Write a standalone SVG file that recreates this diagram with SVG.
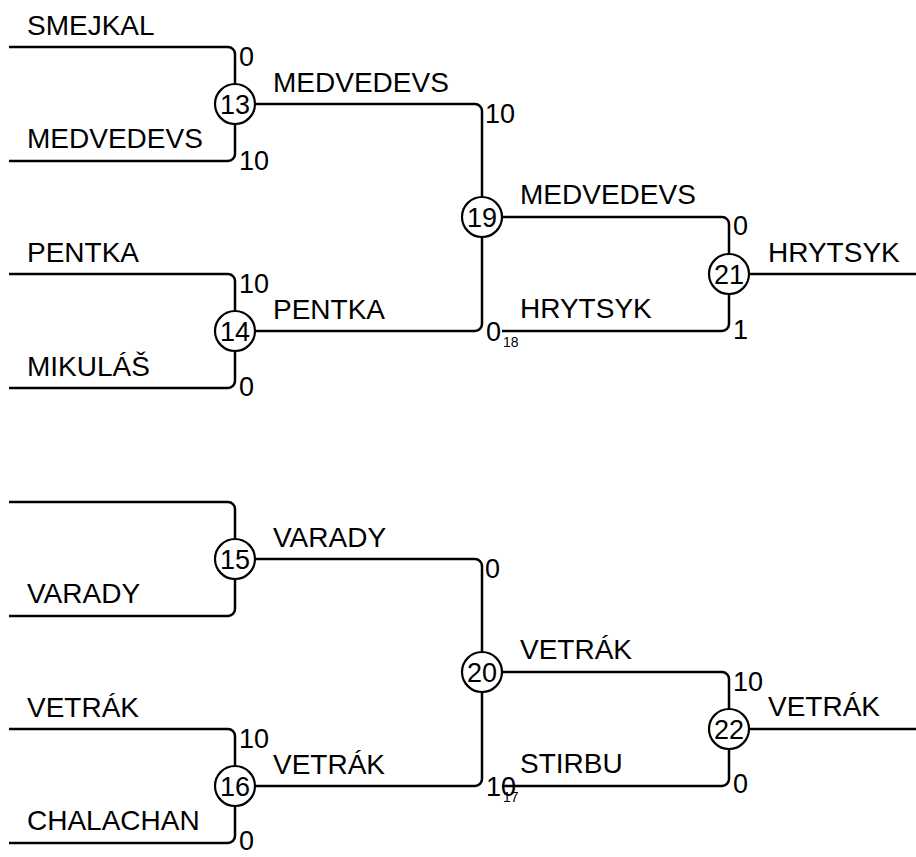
<svg xmlns="http://www.w3.org/2000/svg" width="916" height="857" viewBox="0 0 916 857">
<style>
.ln{fill:none;stroke:#000;stroke-width:2.5}
.nd circle{fill:#fff;stroke:#000;stroke-width:2.2}
text{font-family:"Liberation Sans",Arial,sans-serif;font-size:28px;fill:#000}
.num{text-anchor:middle;font-size:27px}
.sc{font-size:27px}
.sub{font-size:14px}
</style>
<rect width="916" height="857" fill="#fff"/>
<g id="connectors">
<path class="ln" d="M9,47 H228 A7,7 0 0 1 235,54 V154 A7,7 0 0 1 228,161 H9"/>
<path class="ln" d="M9,274 H228 A7,7 0 0 1 235,281 V381 A7,7 0 0 1 228,388 H9"/>
<path class="ln" d="M235,104 H475 A7,7 0 0 1 482,111 V324 A7,7 0 0 1 475,331 H235"/>
<path class="ln" d="M482,217 H722 A7,7 0 0 1 729,224 V324 A7,7 0 0 1 722,331 H502"/>
<path class="ln" d="M729,274 H916"/>
<path class="ln" d="M9,502 H228 A7,7 0 0 1 235,509 V609 A7,7 0 0 1 228,616 H9"/>
<path class="ln" d="M9,729 H228 A7,7 0 0 1 235,736 V836 A7,7 0 0 1 228,843 H9"/>
<path class="ln" d="M235,559 H475 A7,7 0 0 1 482,566 V779 A7,7 0 0 1 475,786 H235"/>
<path class="ln" d="M482,672 H722 A7,7 0 0 1 729,679 V779 A7,7 0 0 1 722,786 H502"/>
<path class="ln" d="M729,729 H916"/>
</g>
<g id="labels">
<text x="27" y="35">SMEJKAL</text>
<text x="27" y="148">MEDVEDEVS</text>
<text class="sc" x="239" y="66">0</text>
<text class="sc" x="239" y="170">10</text>
<text x="27" y="262">PENTKA</text>
<text x="27" y="376">MIKULÁŠ</text>
<text class="sc" x="239" y="293">10</text>
<text class="sc" x="239" y="396">0</text>
<text x="273" y="92">MEDVEDEVS</text>
<text class="sc" x="485" y="123">10</text>
<text x="273" y="319">PENTKA</text>
<text class="sc" x="486" y="341">0</text>
<text class="sub" x="503" y="347">18</text>
<text x="520" y="204">MEDVEDEVS</text>
<text class="sc" x="733" y="235">0</text>
<text x="520" y="318">HRYTSYK</text>
<text class="sc" x="733" y="339">1</text>
<text x="768" y="262">HRYTSYK</text>
<text x="27" y="603">VARADY</text>
<text x="273" y="547">VARADY</text>
<text class="sc" x="485" y="578">0</text>
<text x="27" y="717">VETRÁK</text>
<text x="27" y="830">CHALACHAN</text>
<text class="sc" x="239" y="748">10</text>
<text class="sc" x="239" y="850">0</text>
<text x="273" y="774">VETRÁK</text>
<text class="sc" x="486" y="796">10</text>
<text class="sub" x="503" y="802">17</text>
<text x="520" y="659">VETRÁK</text>
<text class="sc" x="733" y="691">10</text>
<text x="520" y="773">STIRBU</text>
<text class="sc" x="733" y="793">0</text>
<text x="768" y="716">VETRÁK</text>
</g>
<g id="m13" class="nd"><circle cx="235" cy="104" r="20"/><text class="num" x="235" y="114">13</text></g>
<g id="m14" class="nd"><circle cx="235" cy="331" r="20"/><text class="num" x="235" y="341">14</text></g>
<g id="m19" class="nd"><circle cx="482" cy="217" r="20"/><text class="num" x="482" y="227">19</text></g>
<g id="m21" class="nd"><circle cx="729" cy="274" r="20"/><text class="num" x="729" y="284">21</text></g>
<g id="m15" class="nd"><circle cx="235" cy="559" r="20"/><text class="num" x="235" y="569">15</text></g>
<g id="m16" class="nd"><circle cx="235" cy="786" r="20"/><text class="num" x="235" y="796">16</text></g>
<g id="m20" class="nd"><circle cx="482" cy="672" r="20"/><text class="num" x="482" y="682">20</text></g>
<g id="m22" class="nd"><circle cx="729" cy="729" r="20"/><text class="num" x="729" y="739">22</text></g>
</svg>
